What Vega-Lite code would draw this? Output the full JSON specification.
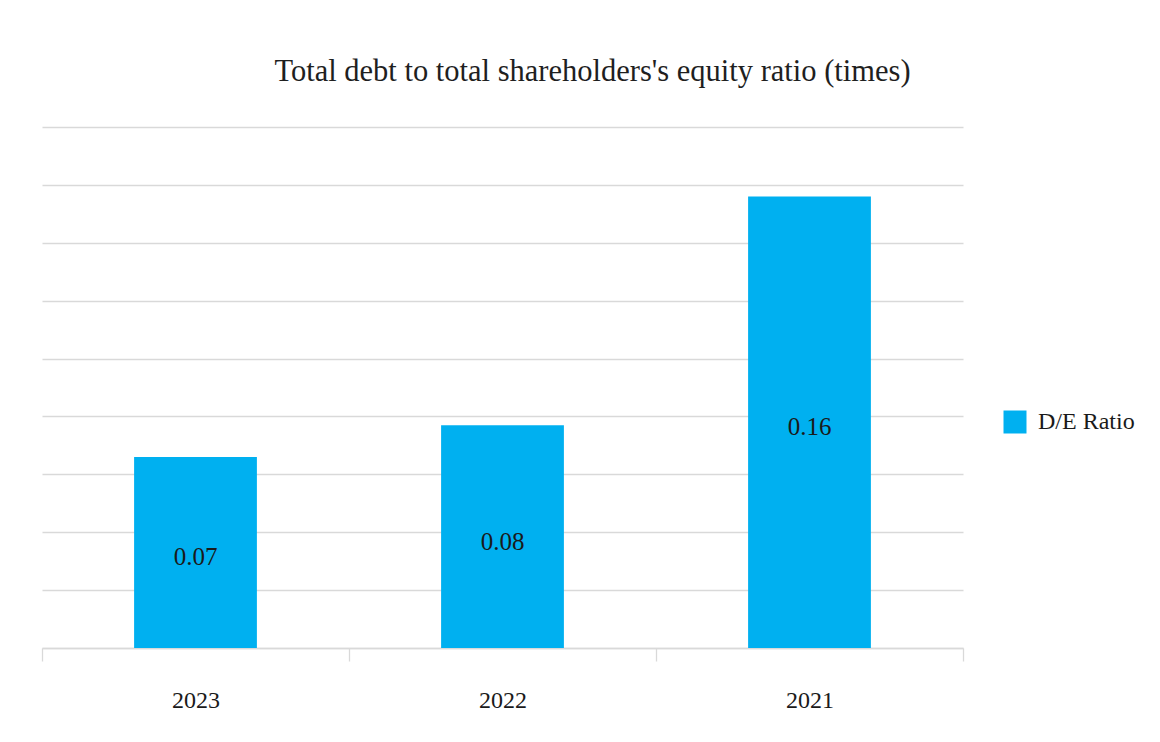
{
  "$schema": "https://vega.github.io/schema/vega-lite/v6.json",
  "autosize": "none",
  "width": 921,
  "height": 521,
  "padding": {"left": 42, "top": 127, "right": 197, "bottom": 94},
  "background": "white",
  "config": {"view": {"stroke": null}},
  "title": {
    "text": "Total debt to total shareholders's equity ratio (times)",
    "font": "Liberation Serif",
    "fontSize": 30.5,
    "fontWeight": "normal",
    "color": "#1f1f1f",
    "anchor": "middle",
    "frame": "group",
    "dx": 90,
    "offset": 40
  },
  "data": {
    "values": [
      {"year": "2023", "ratio": 0.066, "series": "D/E Ratio"},
      {"year": "2022", "ratio": 0.077, "series": "D/E Ratio"},
      {"year": "2021", "ratio": 0.156, "series": "D/E Ratio"}
    ]
  },
  "encoding": {
    "x": {
      "field": "year",
      "type": "nominal",
      "sort": ["2023", "2022", "2021"],
      "scale": {"paddingInner": 0, "paddingOuter": 0},
      "axis": {
        "title": null,
        "labelAngle": 0,
        "labelFont": "Liberation Serif",
        "labelFontSize": 24,
        "labelColor": "#1a1a1a",
        "labelPadding": 27,
        "tickBand": "extent",
        "tickSize": 13,
        "tickColor": "#d9d9d9",
        "tickWidth": 1.3,
        "domainColor": "#d9d9d9",
        "domainWidth": 1.3,
        "grid": false
      }
    },
    "y": {
      "field": "ratio",
      "type": "quantitative",
      "scale": {"domain": [0, 0.18], "nice": false},
      "axis": {
        "title": null,
        "labels": false,
        "ticks": false,
        "domain": false,
        "grid": true,
        "gridColor": "#d9d9d9",
        "gridWidth": 1.3,
        "values": [0, 0.02, 0.04, 0.06, 0.08, 0.1, 0.12, 0.14, 0.16, 0.18]
      }
    }
  },
  "layer": [
    {
      "mark": {"type": "bar", "width": {"band": 0.4}},
      "encoding": {
        "color": {
          "field": "series",
          "type": "nominal",
          "scale": {"range": ["#00B0F0"]},
          "legend": {
            "title": null,
            "orient": "none",
            "legendX": 961,
            "legendY": 283,
            "padding": 0,
            "symbolType": "square",
            "symbolSize": 529,
            "symbolStrokeWidth": 0,
            "labelFont": "Liberation Serif",
            "labelFontSize": 24,
            "labelColor": "#1a1a1a",
            "labelOffset": 11
          }
        }
      }
    },
    {
      "mark": {
        "type": "text",
        "font": "Liberation Serif",
        "fontSize": 25,
        "color": "#1a1a1a",
        "baseline": "middle",
        "dy": {"expr": "(scale('y', 0) - scale('y', datum.ratio)) / 2 + 5"}
      },
      "encoding": {
        "text": {"field": "ratio", "type": "quantitative", "format": ".2f"}
      }
    }
  ]
}
